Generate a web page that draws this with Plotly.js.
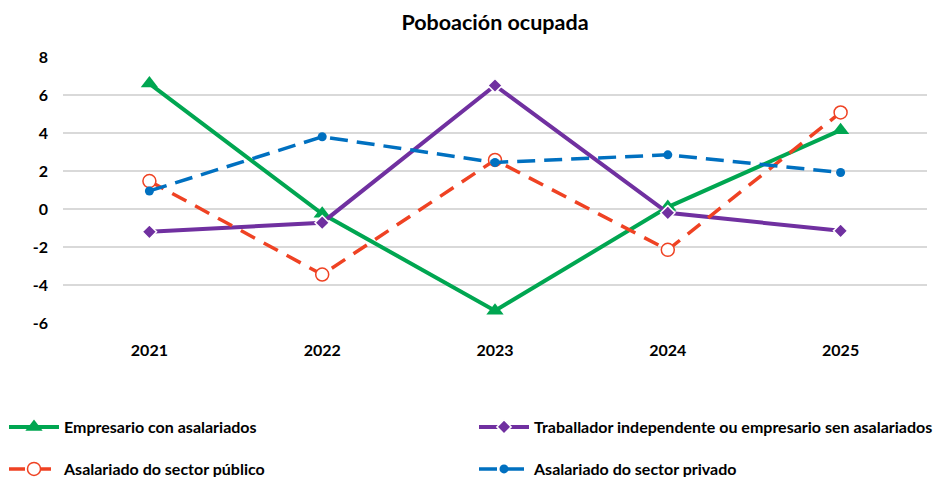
<!DOCTYPE html>
<html><head><meta charset="utf-8">
<script src="https://cdn.plot.ly/plotly-3.0.1.min.js"></script>
<style>html,body{margin:0;padding:0;background:#fff}#chart{width:934px;height:477px}</style>
</head><body><div id="chart"></div>
<script>
const years = ['2021','2022','2023','2024','2025'];
const empresarioCon = [6.6, -0.25, -5.35, 0.1, 4.15];
const traballadorInd = [-1.2, -0.72, 6.5, -0.2, -1.15];
const asalariadoPublico = [1.47, -3.45, 2.58, -2.15, 5.08];
const asalariadoPrivado = [0.95, 3.8, 2.45, 2.85, 1.92];
const yTicks = [-6, -4, -2, 0, 2, 4, 6, 8];

const FONT = 'Lato, "Open Sans", sans-serif';
const traces = [
  {x: years, y: empresarioCon, name: 'Empresario con asalariados', type: 'scatter', mode: 'lines+markers',
   line: {color: '#00a651', width: 4}, marker: {symbol: 'triangle-up', size: 15, color: '#00a651'}, legend: 'legend'},
  {x: years, y: traballadorInd, name: 'Traballador independente ou empresario sen asalariados', type: 'scatter', mode: 'lines+markers',
   line: {color: '#7030a0', width: 4}, marker: {symbol: 'diamond', size: 11, color: '#7030a0', line: {color: '#ffffff', width: 1.5}}, legend: 'legend2'},
  {x: years, y: asalariadoPublico, name: 'Asalariado do sector público', type: 'scatter', mode: 'lines+markers',
   line: {color: '#ef4223', width: 3.5, dash: '16px,10px'}, marker: {symbol: 'circle', size: 13, color: '#ffffff', line: {color: '#ef4223', width: 1.5}}, legend: 'legend3'},
  {x: years, y: asalariadoPrivado, name: 'Asalariado do sector privado', type: 'scatter', mode: 'lines+markers',
   line: {color: '#0070c0', width: 3.5, dash: '18px,9px'}, marker: {symbol: 'circle', size: 9, color: '#0070c0'}, legend: 'legend4'}
];

function leg(xpx, ypx) {
  return {orientation: 'h', xref: 'container', yref: 'container', x: xpx / 934, y: 1 - ypx / 477,
    xanchor: 'left', yanchor: 'middle', itemwidth: 50, borderwidth: 0,
    font: {family: FONT, size: 16, color: '#000', weight: 'bold'}, bgcolor: 'rgba(0,0,0,0)'};
}

const layout = {
  width: 934, height: 477,
  margin: {l: 63, r: 7, t: 57, b: 154},
  paper_bgcolor: '#fff', plot_bgcolor: '#fff',
  font: {family: FONT, size: 16, color: '#000'},
  title: {text: '<b>Poboación ocupada</b>', x: 0.5, xref: 'paper', y: 1 - 22/477, yref: 'container', yanchor: 'middle',
          font: {family: FONT, size: 21.5, color: '#000'}},
  xaxis: {type: 'category', range: [-0.5, 4.5], showgrid: false, zeroline: false, showline: false,
          ticks: '', ticklabelstandoff: 16, tickfont: {family: FONT, size: 16, color: '#000', weight: 'bold'}},
  yaxis: {range: [-6, 8], tickvals: yTicks, ticktext: yTicks.map(String), showgrid: true, gridcolor: '#d9d9d9', gridwidth: 1.5,
          zeroline: false, showline: false, ticks: '', ticklabelstandoff: 14, tickfont: {family: FONT, size: 16, color: '#000', weight: 'bold'}},
  legend: leg(4, 427),
  legend2: leg(474, 427),
  legend3: leg(4, 469),
  legend4: leg(474, 469),
  showlegend: true
};

Plotly.newPlot('chart', traces, layout, {displayModeBar: false, responsive: false});
</script>
</body></html>
